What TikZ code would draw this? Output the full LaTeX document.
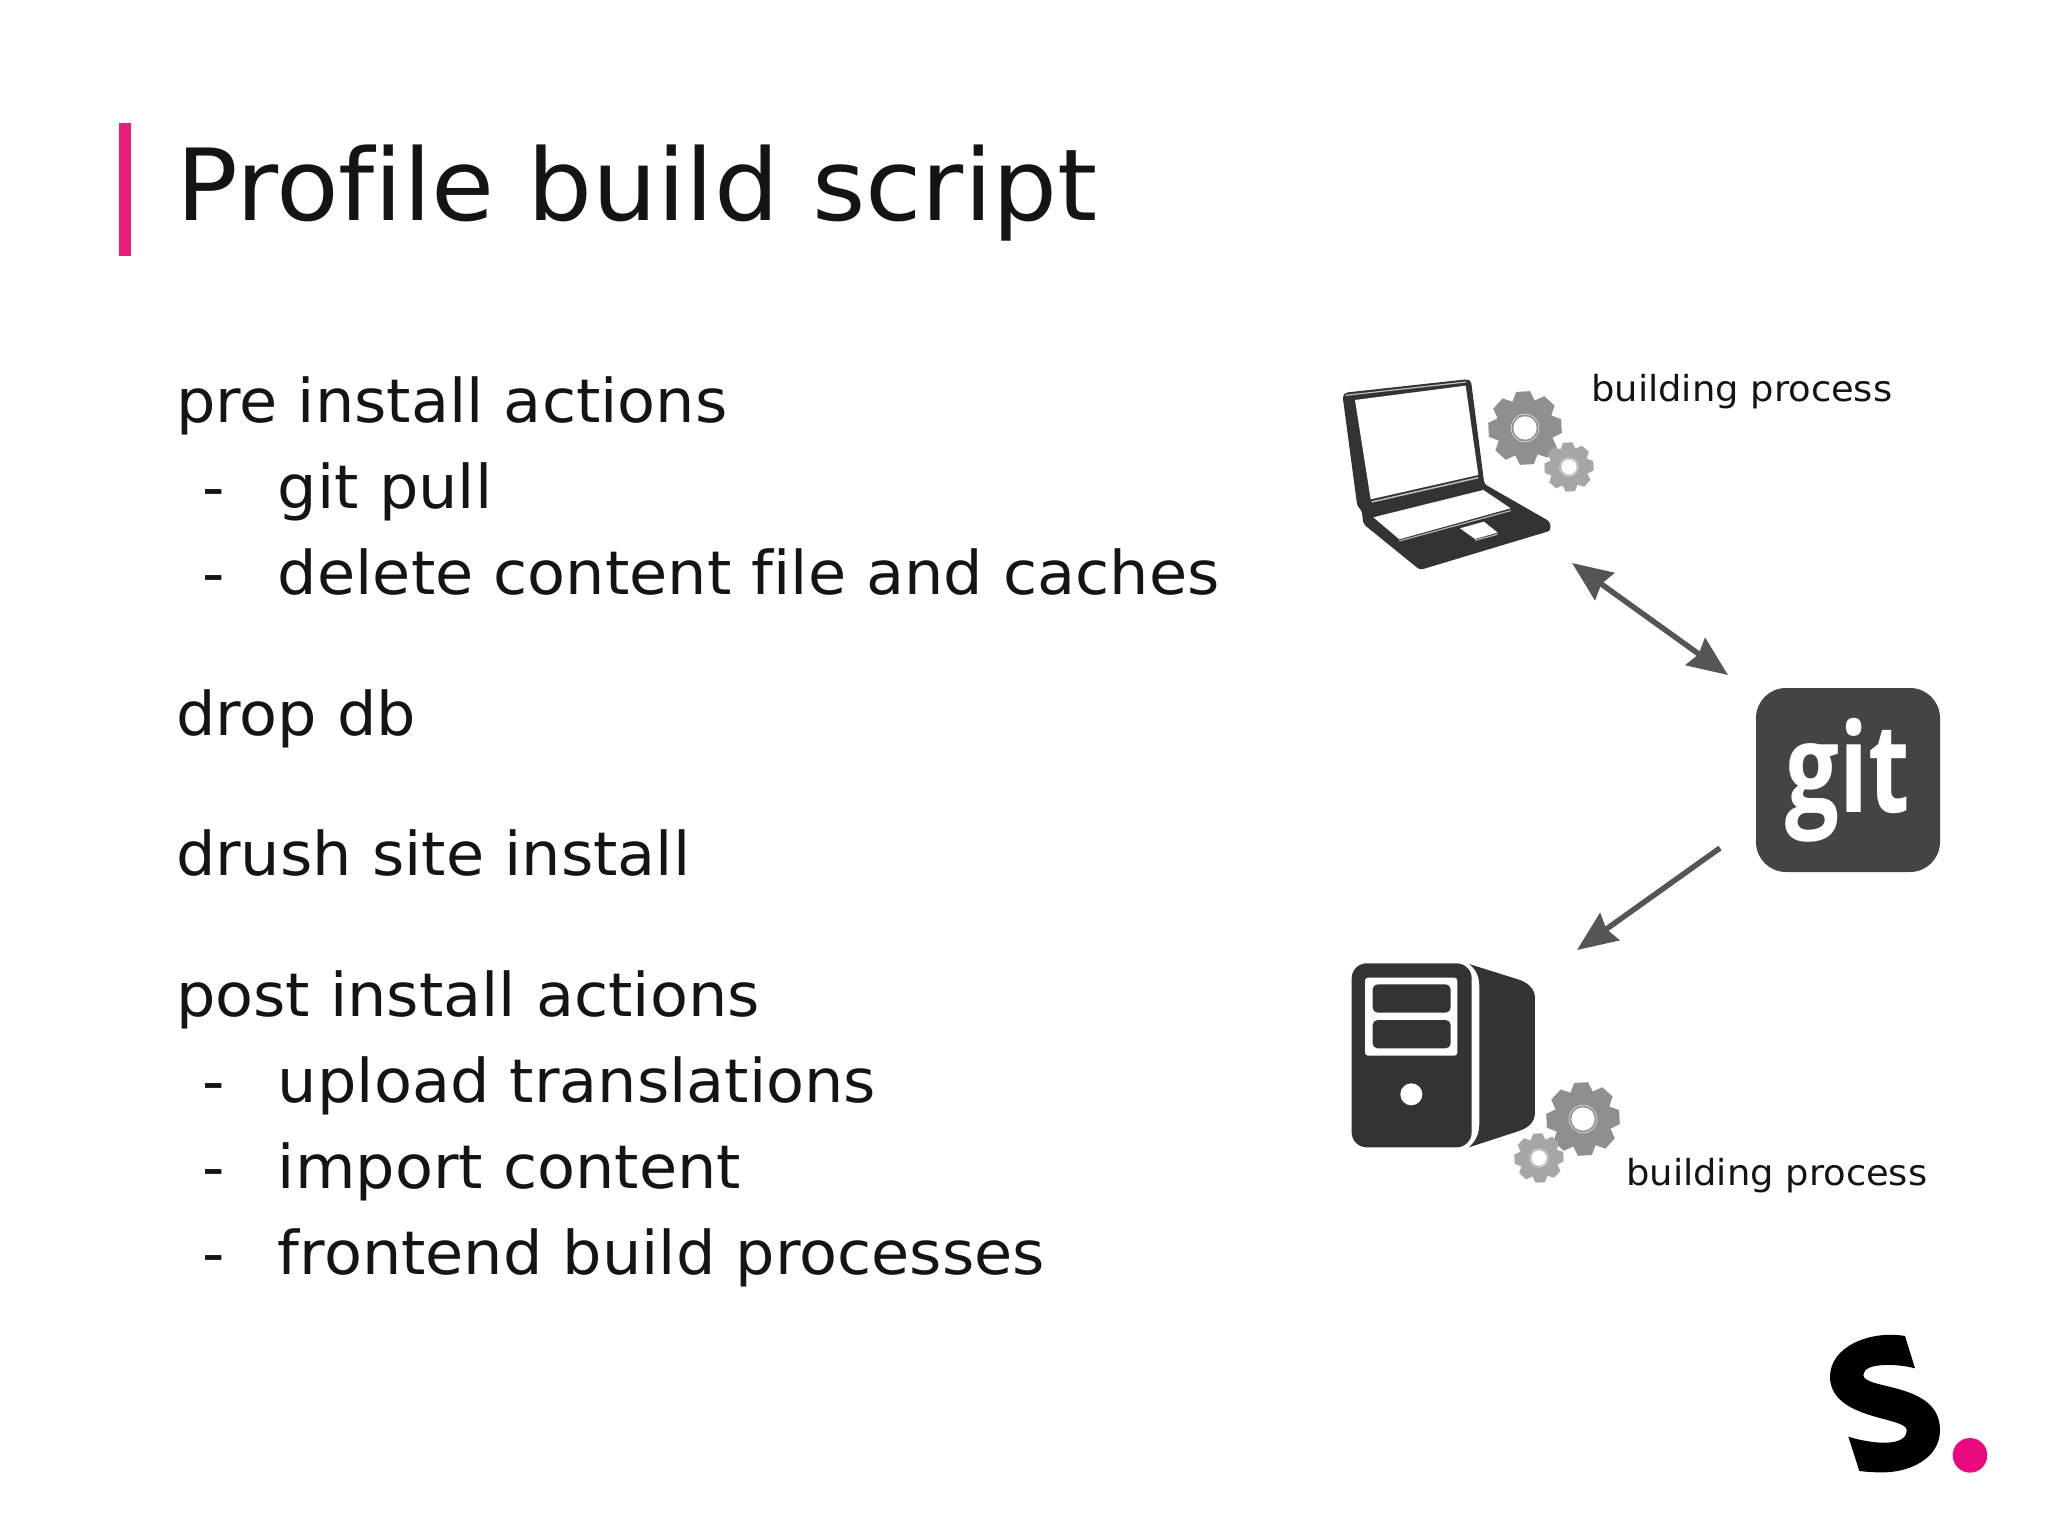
\documentclass[tikz,border=0pt]{standalone}
\usepackage{fontspec}
\setmainfont[Ligatures=NoCommon, FakeStretch=1.03]{DejaVu Sans}
\newfontfamily\gitfont[FakeStretch=0.77]{Open Sans}
\usetikzlibrary{arrows.meta}

\definecolor{accent}{HTML}{E91E78}
\definecolor{logopink}{HTML}{EA0A80}
\definecolor{inkdark}{HTML}{141414}
\definecolor{icondark}{HTML}{333333}
\definecolor{gitdark}{HTML}{444444}
\definecolor{arrowgrey}{HTML}{555555}
\definecolor{gearbig}{HTML}{8F8F8F}
\definecolor{gearsmall}{HTML}{A6A6A6}

\tikzstyle{headline} = [
    anchor=base west,
    inner sep=0pt,
    text=inkdark,
    font=\fontsize{99.5}{105}\selectfont
]
\tikzstyle{body} = [
    text width=1100pt,
    text height=60pt,
    text depth=20pt,
    inner sep=0pt,
    align=left,
    text=inkdark,
    font=\fontsize{60.3}{64}\selectfont
]
\tikzstyle{caption} = [
    anchor=base west,
    inner sep=0pt,
    text=inkdark,
    font=\fontsize{35.8}{40}\selectfont
]
\tikzstyle{gitbox} = [
    rectangle,
    rounded corners=30pt,
    minimum width=184pt,
    minimum height=184pt,
    inner sep=0pt,
    fill=gitdark,
    text=white,
    font=\gitfont\bfseries\fontsize{124}{124}\selectfont
]
\tikzstyle{iconbox} = [rectangle, inner sep=0pt]
\tikzstyle{arrow} = [line width=5.5pt, arrowgrey, >={Stealth[length=40pt,width=33pt,inset=4pt]}]

% one line of a list, with its dash
\newcommand{\dashline}[1]{\makebox[102pt][l]{\hspace{26pt}-}#1}

% centre x, centre y, outer radius, root radius, colour
\newcommand{\gearicon}[5]{
    \begin{scope}[shift={(#1,#2)}, rotate=3]
        \fill[#5] (0,0) circle (#4pt);
        \foreach \a in {0,45,...,315} {
            \fill[#5, rotate=\a]
                (-0.33*#3,0.68*#3) -- (-0.19*#3,#3) -- (0.19*#3,#3) -- (0.33*#3,0.68*#3) -- cycle;
        }
        \fill[white] (0,0) circle (0.32*#3 pt);
        \draw[white!85!black, line width=0.7pt] (0,0) circle (0.38*#3 pt);
    \end{scope}
}

\begin{document}
\begin{tikzpicture}[x=1pt, y=-1pt, node distance=86pt]
    \useasboundingbox (0,0) rectangle (2048,1536);
    \fill[white] (0,0) rectangle (2048,1536);

    % title
    \fill[accent] (119,123) rectangle (131,256);
    \node (title) [headline] at (176,220) {Profile build script};

    % list
    \node (preinstall) [body] at (726,402) {pre install actions};
    \node (gitpull) [body, below of=preinstall] {\dashline{git pull}};
    \node (deletefile) [body, below of=gitpull] {\dashline{delete content file and caches}};
    \node (dropdb) [body, below of=deletefile, yshift=-55pt] {drop db};
    \node (drush) [body, below of=dropdb, yshift=-54pt] {drush site install};
    \node (postinstall) [body, below of=drush, yshift=-55pt] {post install actions};
    \node (upload) [body, below of=postinstall] {\dashline{upload translations}};
    \node (import) [body, below of=upload] {\dashline{import content}};
    \node (frontend) [body, below of=import] {\dashline{frontend build processes}};

    % laptop
    \node (laptop) [iconbox, minimum width=210pt, minimum height=192pt] at (1447,474) {};
    \begin{scope}[shift={(1300,340)}, x=0.3333pt, y=-0.3333pt]
        \fill[icondark, rounded corners=3pt] (128,170) -- (135,158) -- (500,118) -- (513,122)
            -- (553,432) -- (750,545) -- (752,572) -- (360,690) -- (190,552) -- (185,510) -- (172,500) -- cycle;
        \fill[white] (165,180) -- (497,137) -- (535,405) -- (212,478) -- cycle;
        \draw[white!75!black, line width=1.2pt] (137,166) -- (498,126);
        \draw[white!75!black, line width=1.5pt] (215,486) -- (535,413);
        \fill[white] (220,532) -- (550,450) -- (632,505) -- (298,598) -- cycle;
        \draw[white!70!black, line width=1.2pt] (298,603) -- (632,512);
        \fill[icondark] (470,560) -- (560,537) -- (610,575) -- (520,605) -- cycle;
        \fill[white] (480,565) -- (552,545) -- (593,578) -- (525,597) -- cycle;
        \draw[white!70!black, line width=1.2pt] (525,601) -- (593,583);
    \end{scope}
    \gearicon{1525}{428}{36.5}{28}{gearbig}
    \gearicon{1569}{467}{24.5}{19}{gearsmall}
    \node (laptoplabel) [caption] at (1591,401) {building process};

    % git
    \node (git) [gitbox] at (1848,780) {\raisebox{-2pt}{git}};

    % server
    \node (server) [iconbox, minimum width=184pt, minimum height=184pt] at (1443,1056) {};
    \begin{scope}[shift={(1320,940)}, x=0.3333pt, y=-0.3333pt]
        \fill[icondark] (95,70) [rounded corners=15pt] -- (455,70) -- (455,622) -- (95,622) -- cycle;
        \fill[white, rounded corners=3pt] (135,113) rectangle (412,347);
        \fill[icondark, rounded corners=5pt] (158,133) rectangle (392,218);
        \fill[icondark, rounded corners=5pt] (158,240) rectangle (392,325);
        \fill[white] (274,463) circle (11pt);
        \fill[icondark] (447,72) -- (600,120) .. controls (630,132) and (645,150) .. (645,175)
            -- (645,515) .. controls (645,545) and (630,560) .. (600,572) -- (447,622)
            .. controls (470,600) and (478,580) .. (478,550) -- (478,140) .. controls (478,110) and (470,90) .. (447,72) -- cycle;
    \end{scope}
    \gearicon{1583}{1119}{36.5}{28}{gearbig}
    \gearicon{1539}{1158}{24.5}{19}{gearsmall}
    \node (serverlabel) [caption] at (1626,1185) {building process};

    % connectors
    \coordinate (laptopport) at (1572,563);
    \coordinate (gitin) at (1728,675);
    \coordinate (gitout) at (1720,848);
    \coordinate (serverport) at (1577,950);
    \draw [arrow, <->] (laptopport) -- (gitin);
    \draw [arrow, ->] (gitout) -- (serverport);

    % logo
    \begin{scope}[shift={(1800,1310)}, x=0.3333pt, y=-0.3333pt]
        \fill[black] (315,78) -- (345,175) .. controls (300,162) and (190,155) .. (190,195)
            .. controls (190,240) and (420,215) .. (420,360)
            .. controls (420,450) and (320,490) .. (240,487)
            .. controls (215,487) and (195,485) .. (178,483) -- (145,380)
            .. controls (190,395) and (320,420) .. (320,360)
            .. controls (320,320) and (90,330) .. (90,200)
            .. controls (90,110) and (210,60) .. (315,78) -- cycle;
        \fill[logopink] (510,436) circle (17.3pt);
    \end{scope}
\end{tikzpicture}
\end{document}
